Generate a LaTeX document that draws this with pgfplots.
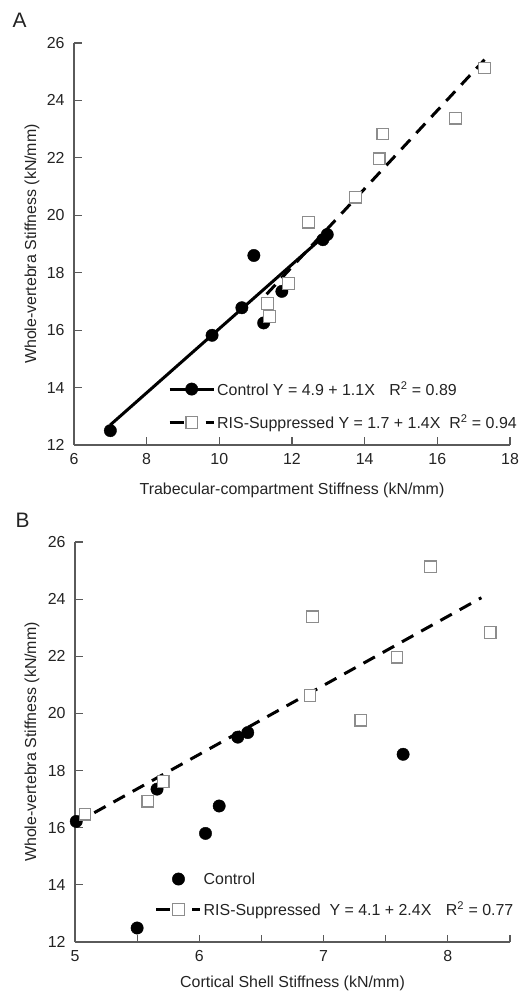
\documentclass[border=0pt]{standalone}
\usepackage{pgfplots}
\pgfplotsset{compat=1.18}
\usepackage{fontspec}
\setmainfont{Liberation Sans}
\definecolor{axgray}{RGB}{90,90,90}
\definecolor{sqgray}{RGB}{140,140,140}
\definecolor{txt}{RGB}{35,35,35}
\pgfplotsset{
 mystyle/.style={
  scale only axis, anchor=south west,
  axis x line=bottom, axis y line=left,
  axis line style={-, draw=axgray, line width=1.2bp},
  tick style={draw=axgray, line width=1.2bp},
  major tick length=7.5bp,
  tick align=inside,
  tick label style={font=\fontsize{16}{19}\selectfont, text=txt},
  yticklabel style={xshift=-6bp},
  xticklabel style={yshift=-5bp},
  /pgf/number format/assume math mode=true,
  clip=false,
  legend style={draw=none, fill=none, font=\fontsize{16}{19}\selectfont, text=txt, inner sep=0pt, cells={anchor=west}},
  legend cell align=left,
  legend image code/.code={\draw[mark repeat=2,mark phase=2,##1] plot coordinates {(0bp,0bp) (22bp,0bp) (44bp,0bp)};},
 },
 ctrlmark/.style={only marks, mark=*, mark size=6.2bp, mark options={solid, fill=black, draw=black, line width=0.4bp}},
 rismark/.style={only marks, mark=square*, mark size=5.8bp, mark options={solid, fill=white, draw=sqgray, line width=1.2bp}},
}
\begin{document}
\begin{tikzpicture}
\path[use as bounding box] (0,0) rectangle (523bp,996bp);
\node[font=\fontsize{21}{24}\selectfont, text=txt, anchor=base west] at (9bp,968bp) {A};
\node[font=\fontsize{21}{24}\selectfont, text=txt, anchor=base west] at (12bp,468bp) {B};
% Panel A
\begin{axis}[mystyle,
  at={(74bp,551bp)}, width=436bp, height=402bp,
  xmin=6, xmax=18, ymin=12, ymax=26,
  xtick={6,8,...,18}, ytick={12,14,...,26},
  xlabel={Trabecular-compartment Stiffness (kN/mm)},
  ylabel={Whole-vertebra Stiffness (kN/mm)},
  every axis x label/.style={at={(axis description cs:0.5,-0.114)}, anchor=center, font=\fontsize{16}{19}\selectfont, text=txt},
  every axis y label/.style={at={(axis description cs:-0.0963,0.5)}, anchor=center, rotate=90, font=\fontsize{16}{19}\selectfont, text=txt},
  legend style={at={(axis description cs:0.2156,0.0974)}, anchor=west, row sep=14bp},
]
\addlegendimage{black, line width=3bp, mark=*, mark size=6.2bp, mark options={solid, fill=black, line width=0.4bp}}
\addlegendentry{Control Y = 4.9 + 1.1X\hspace{10bp} R\textsuperscript{2} = 0.89}
\addlegendimage{black, line width=2.5bp, dash pattern=on 14bp off 22bp, mark=square*, mark size=5.8bp, mark options={solid, fill=white, draw=sqgray, line width=1.2bp}}
\addlegendentry{RIS-Suppressed Y = 1.7 + 1.4X\ \ R\textsuperscript{2} = 0.94}
\addplot[black, line width=3bp, forget plot] coordinates {(7.0,12.7) (12.95,19.35)};
\addplot[black, line width=3bp, dash pattern=on 13bp off 9bp, forget plot] coordinates {(11.3,17.25) (17.3,25.42)};
\addplot[ctrlmark, forget plot] coordinates {
(7.0,12.5) (9.8,15.82) (10.62,16.78) (10.95,18.6) (11.22,16.25) (11.72,17.35) (12.85,19.15) (12.97,19.33)};
\addplot[rismark, forget plot] coordinates {
(11.33,16.93) (11.38,16.47) (11.9,17.62) (12.45,19.76) (13.75,20.63) (14.4,21.97) (14.5,22.83) (16.5,23.38) (17.3,25.13)};
\end{axis}
% Panel B
\begin{axis}[mystyle,
  at={(75bp,54bp)}, width=435bp, height=400bp,
  xmin=5, xmax=8.5, ymin=12, ymax=26,
  xtick={5,5.5,...,8.5}, xticklabels={5,,6,,7,,8,},
  ytick={12,14,...,26},
  xlabel={Cortical Shell Stiffness (kN/mm)},
  ylabel={Whole-vertebra Stiffness (kN/mm)},
  every axis x label/.style={at={(axis description cs:0.5,-0.1025)}, anchor=center, font=\fontsize{16}{19}\selectfont, text=txt},
  every axis y label/.style={at={(axis description cs:-0.0989,0.5)}, anchor=center, rotate=90, font=\fontsize{16}{19}\selectfont, text=txt},
  legend style={at={(axis description cs:0.184,0.118)}, anchor=west, row sep=12bp},
]
\addlegendimage{only marks, mark=*, mark size=6.2bp, mark options={solid, fill=black, line width=0.4bp}}
\addlegendentry{Control}
\addlegendimage{black, line width=2.5bp, dash pattern=on 14bp off 22bp, mark=square*, mark size=5.8bp, mark options={solid, fill=white, draw=sqgray, line width=1.2bp}}
\addlegendentry{RIS-Suppressed\ \ Y = 4.1 + 2.4X\hspace{10bp} R\textsuperscript{2} = 0.77}
\addplot[black, line width=3bp, dash pattern=on 13bp off 9bp, forget plot] coordinates {(5.0,16.15) (8.27,24.05)};
\addplot[ctrlmark, forget plot] coordinates {
(5.01,16.22) (5.5,12.49) (5.66,17.35) (6.05,15.8) (6.16,16.76) (6.31,19.17) (6.39,19.33) (7.64,18.57)};
\addplot[rismark, forget plot] coordinates {
(5.08,16.47) (5.585,16.93) (5.71,17.62) (6.89,20.63) (6.91,23.38) (7.3,19.76) (7.59,21.97) (7.86,25.13) (8.34,22.83)};
\end{axis}
\end{tikzpicture}
\end{document}
